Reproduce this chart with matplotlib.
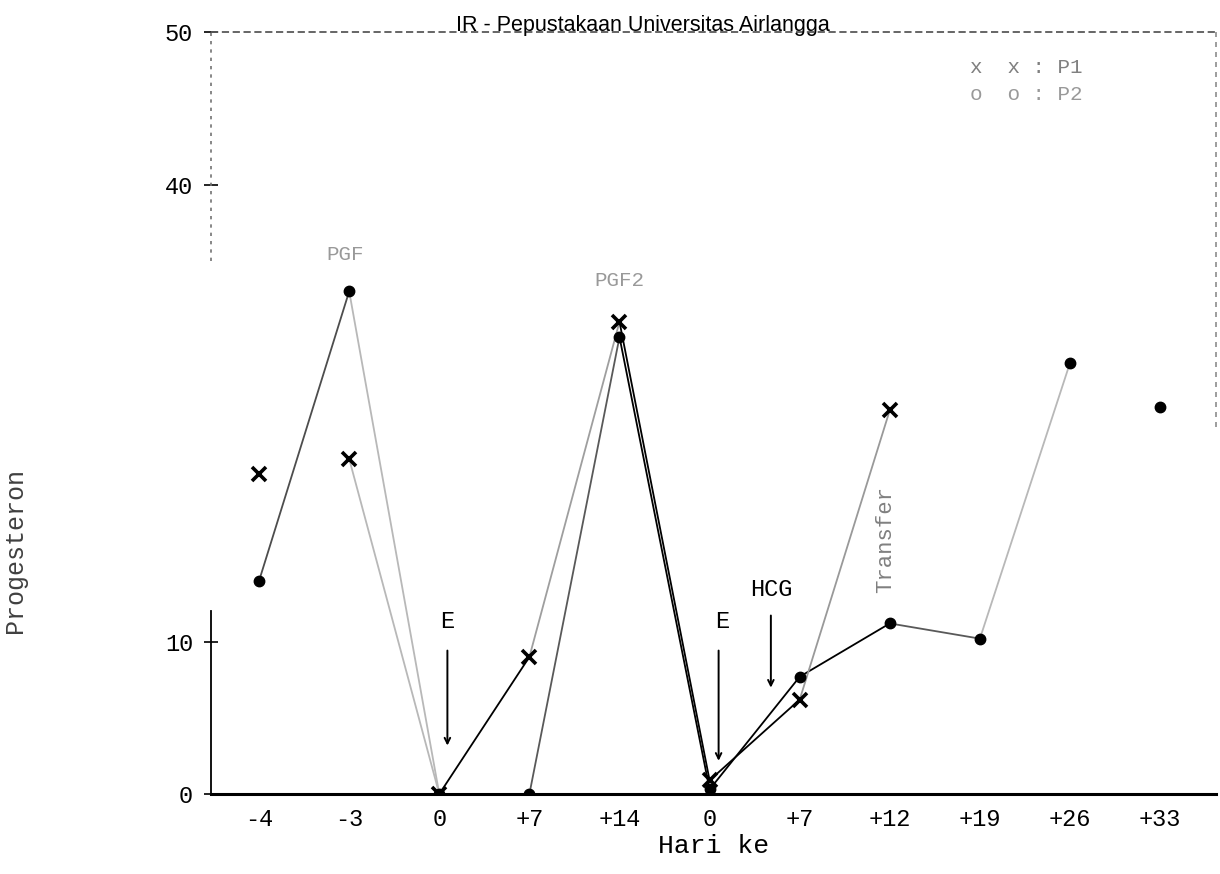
import numpy as np
import matplotlib
matplotlib.use("Agg")
import matplotlib.pyplot as plt
from matplotlib.collections import LineCollection

# Day labels along the cycle (two synchronisation rounds)
day_labels = ["-4", "-3", "0", "+7", "+14", "0", "+7", "+12", "+19", "+26", "+33"]

# Progesterone values for the two animals
p1_cross = [21.0, 22.0, 0.0, 9.0, 31.0, 0.9, 6.2, 25.2, np.nan, np.nan, np.nan]
p2_dot = [14.0, 33.0, 0.0, 0.0, 30.0, 0.3, 7.7, 11.2, 10.2, 28.3, 25.4]

# Grey level of each connecting segment (print density); None = no segment
p1_shade = [None, 0.72, 0.0, 0.62, 0.0, 0.0, 0.6]
p2_shade = [0.3, 0.72, 0.0, 0.35, 0.0, 0.0, 0.0, 0.35, 0.72, None]

mono = ["Liberation Mono", "DejaVu Sans Mono"]

fig = plt.figure(figsize=(12.2, 8.74), dpi=100)
ax = fig.add_axes([0.173, 0.0915, 0.8237, 0.8715])

x = np.arange(len(day_labels))


def draw_segments(vals, shades, lw):
    segs, cols = [], []
    for i, s in enumerate(shades):
        if s is None:
            continue
        y0, y1 = vals[i], vals[i + 1]
        if np.isnan(y0) or np.isnan(y1):
            continue
        segs.append([(x[i], y0), (x[i + 1], y1)])
        cols.append((s, s, s))
    ax.add_collection(LineCollection(segs, colors=cols, linewidths=lw, zorder=2))


draw_segments(p2_dot, p2_shade, 1.3)
draw_segments(p1_cross, p1_shade, 1.3)

ax.plot(x, p2_dot, linestyle="none", marker="o", markersize=7.5,
        color="black", zorder=3)
ax.plot(x, p1_cross, linestyle="none", marker="x", markersize=9.5,
        markeredgewidth=2.6, color="black", zorder=3)

ax.set_xlim(-0.533, 10.62)
ax.set_ylim(0, 50)

ax.set_xticks(x)
ax.set_xticklabels(day_labels, fontsize=17, family=mono)
ax.tick_params(axis="x", length=0, pad=10)
ax.set_yticks([0, 10, 40, 50])
ax.set_yticklabels(["0", "10", "40", "50"], fontsize=17, family=mono)
ax.tick_params(axis="y", direction="inout", length=10, width=1.2, pad=8)

for side in ("top", "right", "left"):
    ax.spines[side].set_visible(False)
ax.spines["bottom"].set_linewidth(2.2)

# Frame: solid lower part of the left axis, faint dotted upper part
ax.plot([-0.533, -0.533], [0, 12], color="black", lw=1.3, clip_on=False)
ax.plot([-0.533, -0.533], [35, 50], color="0.45", lw=1.2, ls=(0, (2, 3)),
        clip_on=False)
ax.plot([-0.533, 10.62], [50, 50], color="0.35", lw=1.3, ls=(0, (4, 2)),
        clip_on=False)
ax.plot([10.62, 10.62], [50, 24], color="0.55", lw=1.2, ls=(0, (3, 3)),
        clip_on=False)

ax.set_xlabel("Hari ke", fontsize=19, family=mono, labelpad=2)
ax.set_ylabel("Progesteron", fontsize=18, family=mono, color="0.25")
ax.yaxis.set_label_coords(-0.183, 0.32)

# Treatment markers
ax.text(0.95, 35.4, "PGF", fontsize=15, family=mono, color="0.6",
        ha="center", va="center")
ax.text(4.0, 33.7, "PGF2", fontsize=15, family=mono, color="0.6",
        ha="center", va="center")

arrow = dict(arrowstyle="->", color="black", lw=1.4)
ax.text(2.09, 11.3, "E", fontsize=17, family=mono, ha="center", va="center")
ax.annotate("", xy=(2.09, 3.0), xytext=(2.09, 9.6), arrowprops=arrow)
ax.text(5.14, 11.3, "E", fontsize=17, family=mono, ha="center", va="center")
ax.annotate("", xy=(5.1, 2.0), xytext=(5.1, 9.6), arrowprops=arrow)
ax.text(5.68, 13.4, "HCG", fontsize=17, family=mono, ha="center", va="center")
ax.annotate("", xy=(5.68, 6.8), xytext=(5.68, 11.9), arrowprops=arrow)
ax.text(6.95, 16.7, "Transfer", fontsize=16, family=mono, color="0.5",
        rotation=90, ha="center", va="center")

# Key
ax.text(7.89, 47.7, "x  x : P1", fontsize=15, family=mono, color="0.5",
        va="center")
ax.text(7.89, 45.9, "o  o : P2", fontsize=15, family=mono, color="0.6",
        va="center")

fig.text(0.527, 0.9645, "IR - Pepustakaan Universitas Airlangga",
         fontsize=15.5, family=["Liberation Sans Narrow", "Liberation Sans"],
         ha="center", va="baseline", color="black")

fig.savefig("out.png", dpi=100)
